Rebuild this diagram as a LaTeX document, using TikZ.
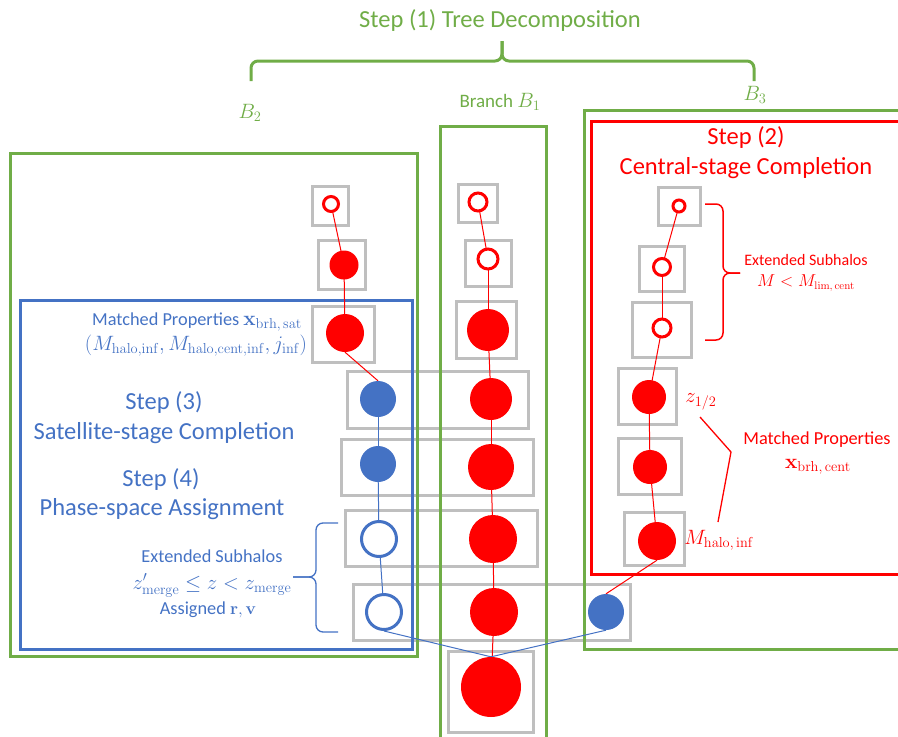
\documentclass[tikz,border=0pt]{standalone}
\usepackage[no-math]{fontspec}
\setmainfont{Carlito}
\usepackage{amsmath}
\usepackage{tikz}
\pgfdeclarelayer{boxlayer}
\pgfdeclarelayer{edgelayer}
\pgfsetlayers{boxlayer,edgelayer,main}
\definecolor{hgreen}{HTML}{70AD47}
\definecolor{hblue}{HTML}{4472C4}
\definecolor{hred}{HTML}{FF0000}
\definecolor{slotgray}{HTML}{BFBFBF}
\newcommand{\bigsz}{\fontsize{24.5}{29}\selectfont}
\newcommand{\midsz}{\fontsize{18.3}{22}\selectfont}
\newcommand{\smallsz}{\fontsize{16}{19}\selectfont}
\newcommand{\mathsz}[1]{\fontsize{#1}{#1}\selectfont}
\tikzset{
	slot/.style={draw=slotgray, line width=3pt},
	frame/.style={line width=3pt},
	halo/.style={circle, inner sep=0pt, minimum size=#1},
	rfull/.style={halo=#1, fill=hred},
	ropen/.style={halo=#1, draw=hred, fill=white, line width=3pt},
	bfull/.style={halo=#1, fill=hblue},
	bopen/.style={halo=#1, draw=hblue, fill=white, line width=3pt},
	rlink/.style={draw=hred, line width=1pt},
	blink/.style={draw=hblue, line width=1pt},
	bracket/.style={rounded corners=7pt},
	lbl/.style={inner sep=0.5pt},
}

\begin{document}
\begin{tikzpicture}[x=1pt,y=-1pt]
	\useasboundingbox (0,0) rectangle (898,737);
	\begin{pgfonlayer}{boxlayer}
		% gray time slots
		\draw [slot] (312,186) rectangle (348,225);
		\draw [slot] (318,240) rectangle (365,289);
		\draw [slot] (312,306) rectangle (374,362);
		\draw [slot] (347,371) rectangle (528,428);
		\draw [slot] (341,439) rectangle (533,495);
		\draw [slot] (345,510) rectangle (537,566);
		\draw [slot] (353,584) rectangle (630,640);
		\draw [slot] (448,651) rectangle (533,732);
		\draw [slot] (458,184) rectangle (497,222);
		\draw [slot] (465,240) rectangle (511,286);
		\draw [slot] (456,301) rectangle (516,358);
		\draw [slot] (658,187) rectangle (700,225);
		\draw [slot] (639,246) rectangle (684,291);
		\draw [slot] (632,302) rectangle (691,357);
		\draw [slot] (618,368) rectangle (676,424);
		\draw [slot] (618,438) rectangle (681,494);
		\draw [slot] (624,512) rectangle (684,565);
		% branch frames
		\draw [frame, hgreen] (10,153) rectangle (417,656);
		\draw [frame, hgreen] (440,737) -- (440,126) -- (546,126) -- (546,737);
		\draw [frame, hgreen] (898,110) -- (584,110) -- (584,649) -- (898,649);
		\draw [frame, hred] (898,121) -- (591,121) -- (591,574) -- (898,574);
		\draw [frame, hblue] (20,300) rectangle (412,649);
	\end{pgfonlayer}

	% branch B2
	\node [ropen=15] (l1) at (331,204) {};
	\node [rfull=29] (l2) at (344,265) {};
	\node [rfull=38] (l3) at (345,333) {};
	\node [bfull=36] (l4) at (378,399) {};
	\node [bfull=36] (l5) at (378,464) {};
	\node [bopen=35] (l6) at (379,539) {};
	\node [bopen=35] (l7) at (384,612) {};
	% branch B1
	\node [ropen=18] (m1) at (478,202) {};
	\node [ropen=20] (m2) at (488,259) {};
	\node [rfull=42] (m3) at (488,330) {};
	\node [rfull=42] (m4) at (491,399) {};
	\node [rfull=46] (m5) at (491,467) {};
	\node [rfull=48] (m6) at (493,539) {};
	\node [rfull=48] (m7) at (494,612) {};
	\node [rfull=60] (root) at (491,687) {};
	% branch B3
	\node [ropen=12] (r1) at (679,206) {};
	\node [ropen=17] (r2) at (662,267) {};
	\node [ropen=18] (r3) at (662,328) {};
	\node [rfull=34] (r4) at (649,397) {};
	\node [rfull=34] (r5) at (650,467) {};
	\node [rfull=38] (r6) at (657,541) {};
	\node [bfull=36] (bs) at (606,612) {};

	% labels
	\node [lbl, hgreen, anchor=base, font=\bigsz] (title) at (500,27.5) {Step (1) Tree Decomposition};
	\node [lbl, hgreen, anchor=base, font=\fontsize{19}{22}\selectfont] (branch) at (500,107) {Branch {\mathsz{21}$B_1$}};
	\node [lbl, hgreen, anchor=base, font=\mathsz{20}] (btwo) at (250,118) {$B_2$};
	\node [lbl, hgreen, anchor=base, font=\mathsz{20}] (bthree) at (755,100) {$B_3$};
	\node [lbl, hred, font=\bigsz] (steptwo) at (746,138) {Step (2)};
	\node [lbl, hred, font=\bigsz] (centralstage) at (746,168) {Central-stage Completion};
	\node [lbl, hred, font=\smallsz] (extcent) at (806,260) {Extended Subhalos};
	\node [lbl, hred, font=\smallsz] (mlim) at (806,283) {$M<M_{\mathrm{lim,\,cent}}$};
	\node [lbl, hred, font=\mathsz{20}] (zhalf) at (701,402) {$z_{1/2}$};
	\node [lbl, hred, font=\mathsz{21.5}] (mhalo) at (719,540) {$M_{\mathrm{halo,\,inf}}$};
	\node [lbl, hred, font=\midsz] (matchcent) at (817,440) {Matched Properties};
	\node [lbl, hred, font=\mathsz{22}] (xcent) at (818,467) {$\mathbf{x}_{\mathrm{brh,\,cent}}$};
	\node [lbl, hblue, font=\midsz] (matchsat) at (197,322) {Matched Properties {\mathsz{21}$\mathbf{x}_{\mathrm{brh,\,sat}}$}};
	\node [lbl, hblue, font=\mathsz{20.5}] (propsat) at (196,346) {$(M_{\mathrm{halo,inf}}, M_{\mathrm{halo,cent,inf}}, j_{\mathrm{inf}})$};
	\node [lbl, hblue, font=\bigsz] (stepthree) at (164,403) {Step (3)};
	\node [lbl, hblue, font=\bigsz] (satstage) at (164,433) {Satellite-stage Completion};
	\node [lbl, hblue, font=\bigsz] (stepfour) at (161,480) {Step (4)};
	\node [lbl, hblue, font=\bigsz] (phasespace) at (162,509) {Phase-space Assignment};
	\node [lbl, hblue, font=\midsz] (extsat) at (212,556) {Extended Subhalos};
	\node [lbl, hblue, font=\mathsz{20.5}] (zmerge) at (212,584) {$\smash{z'_{\mathrm{merge}}}\le z<\smash{z_{\mathrm{merge}}}$};
	\node [lbl, hblue, font=\midsz] (assigned) at (208,610) {Assigned $\mathbf{r},\mathbf{v}$};

	\begin{pgfonlayer}{edgelayer}
		\draw [rlink] (l1.center) to (l2.center);
		\draw [rlink] (l2.center) to (l3.center);
		\draw [rlink] (l3.south) to (l4.north);
		\draw [blink] (l4.center) to (l5.center);
		\draw [blink] (l5.center) to (l6.center);
		\draw [blink] (l6.center) to (l7.center);
		\draw [blink] (l7.south) to (root.north);
		\draw [rlink] (m1.center) to (m2.center);
		\draw [rlink] (m2.center) to (m3.center);
		\draw [rlink] (m3.center) to (m4.center);
		\draw [rlink] (m4.center) to (m5.center);
		\draw [rlink] (m5.center) to (m6.center);
		\draw [rlink] (m6.center) to (m7.center);
		\draw [rlink] (m7.center) to (root.center);
		\draw [rlink] (r1.center) to (r2.center);
		\draw [rlink] (r2.center) to (r3.center);
		\draw [rlink] (r3.center) to (r4.center);
		\draw [rlink] (r4.center) to (r5.center);
		\draw [rlink] (r5.center) to (r6.center);
		\draw [rlink] (r6.south) to (bs.north);
		\draw [blink] (bs.south) to (root.north);
		% braces
		\draw [bracket, hgreen, line width=3pt] (251,81) -- (251,61) -- (502,61) -- (502,41);
		\draw [bracket, hgreen, line width=3pt] (754,81) -- (754,61) -- (502,61) -- (502,41);
		\draw [bracket, hred, line width=1.5pt] (705,204) -- (723,204) -- (723,273) -- (740,273);
		\draw [bracket, hred, line width=1.5pt] (705,340) -- (723,340) -- (723,273) -- (740,273);
		\draw [bracket, hblue, line width=1.3pt] (338,523) -- (316,523) -- (316,577) -- (293,577);
		\draw [bracket, hblue, line width=1.3pt] (338,632) -- (316,632) -- (316,577) -- (293,577);
		\draw [hred, line width=1.3pt] (700,417) -- (731,452) -- (718,522);
	\end{pgfonlayer}
\end{tikzpicture}
\end{document}
